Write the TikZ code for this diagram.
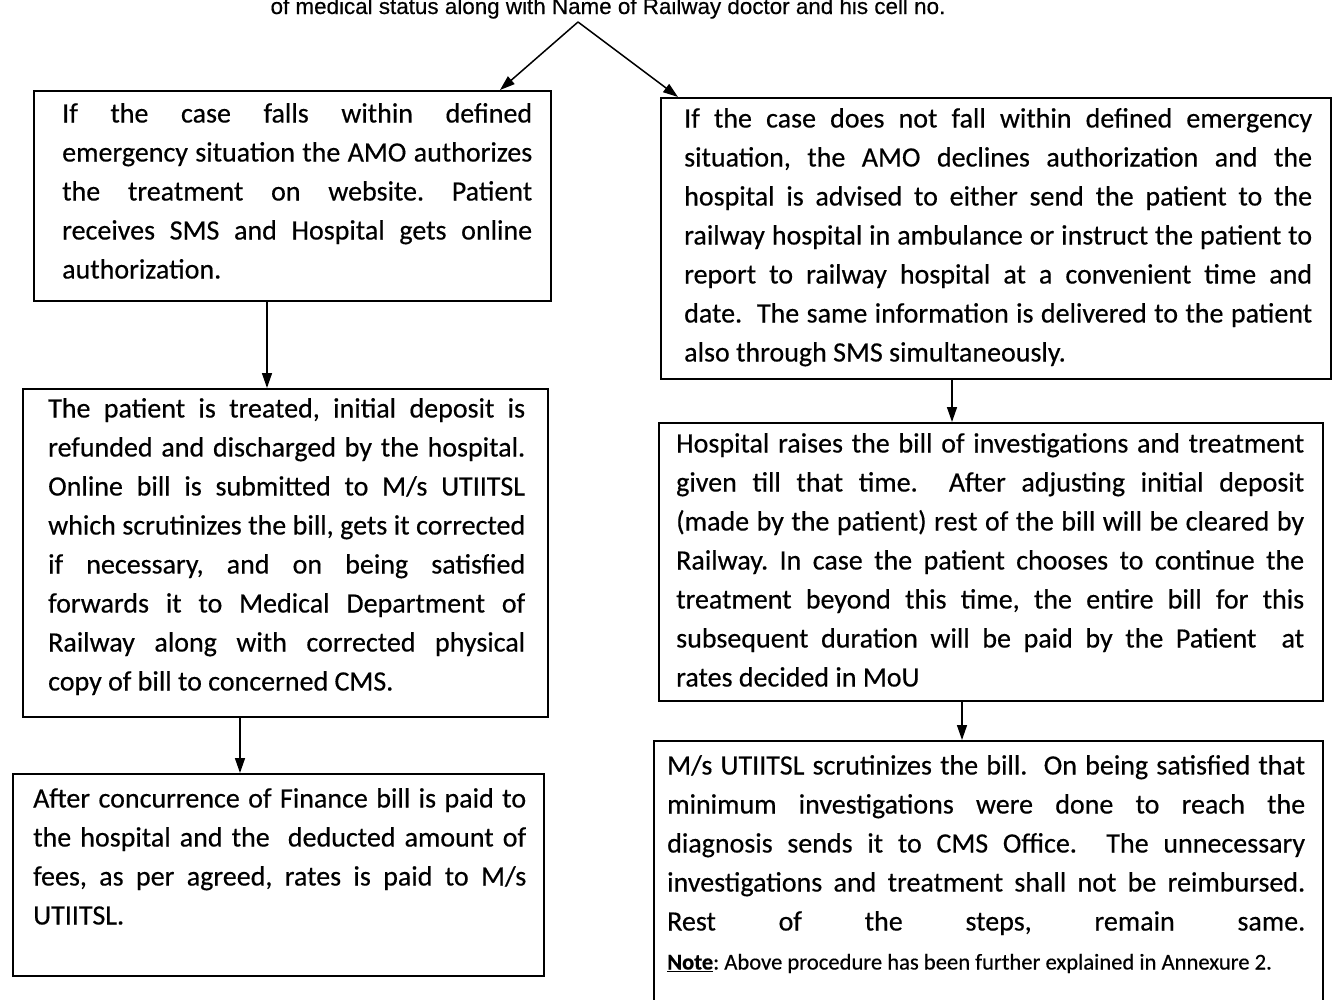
\documentclass[tikz,border=0pt]{standalone}
\usepackage{fontspec}
\setmainfont{Carlito}[FakeBold=0.4]
\newfontfamily\topfont{Liberation Sans}[FakeBold=0.4]
\usetikzlibrary{arrows.meta,calc}
\newcommand\J[2]{\hbox to #1pt{#2}}
\tikzset{
  boxst/.style={draw=black, line width=1.5pt, inner sep=0pt, anchor=north west},
  txt/.style={inner sep=0pt, anchor=north west, align=left, font=\fontsize{28}{39}\selectfont\frenchspacing},
  arr/.style={line width=1.5pt, -{Triangle[length=15pt,width=10pt]}}
}
\begin{document}
\begin{tikzpicture}[x=1pt,y=-1pt]
\useasboundingbox (0,0) rectangle (1333,999);
\fill[white] (0,0) rectangle (1333,999);
% top text (cut off by the page edge)
\node[font=\topfont\fontsize{22.4}{26}\selectfont, anchor=base, inner sep=0pt] (top) at (608,14) {of medical status along with Name of Railway doctor and his cell no.};
\coordinate (apex) at (578,22);
% boxes
\node[boxst, minimum width=517, minimum height=210] (L1) at (33,90) {};
\node[boxst, minimum width=525, minimum height=328] (L2) at (22,388) {};
\node[boxst, minimum width=531, minimum height=202] (L3) at (12,773) {};
\node[boxst, minimum width=670, minimum height=281] (R1) at (660,97) {};
\node[boxst, minimum width=664, minimum height=278] (R2) at (658,422) {};
\node[boxst, minimum width=669, minimum height=280] (R3) at (653,740) {};
% texts
\node[txt] (L1t) at (62,95) {\strut\J{470}{If the case falls within defined}\\
\J{470}{emergency situation the AMO authorizes}\\
\J{470}{the treatment on website. Patient}\\
\J{470}{receives SMS and Hospital gets online}\\
authorization.};
\node[txt] (L2t) at (48,390) {\strut\J{477}{The patient is treated, initial deposit is}\\
\J{477}{refunded and discharged by the hospital.}\\
\J{477}{Online bill is submitted to M/s UTIITSL}\\
\J{477}{which scrutinizes the bill, gets it corrected}\\
\J{477}{if necessary, and on being satisfied}\\
\J{477}{forwards it to Medical Department of}\\
\J{477}{Railway along with corrected physical}\\
copy of bill to concerned CMS.};
\node[txt] (L3t) at (33,780) {\strut\J{493}{After concurrence of Finance bill is paid to}\\
\J{493}{the hospital and the \ deducted amount of}\\
\J{493}{fees, as per agreed, rates is paid to M/s}\\
UTIITSL.};
\node[txt] (R1t) at (684,100) {\strut\J{628}{If the case does not fall within defined emergency}\\
\J{628}{situation, the AMO declines authorization and the}\\
\J{628}{hospital is advised to either send the patient to the}\\
\J{628}{railway hospital in ambulance or instruct the patient to}\\
\J{628}{report to railway hospital at a convenient time and}\\
\J{628}{date. \ The same information is delivered to the patient}\\
also through SMS simultaneously.};
\node[txt] (R2t) at (676,425) {\strut\J{628}{Hospital raises the bill of investigations and treatment}\\
\J{628}{given till that time. \ After adjusting initial deposit}\\
\J{628}{(made by the patient) rest of the bill will be cleared by}\\
\J{628}{Railway. In case the patient chooses to continue the}\\
\J{628}{treatment beyond this time, the entire bill for this}\\
\J{628}{subsequent duration will be paid by the Patient \ at}\\
rates decided in MoU};
\node[txt] (R3t) at (667,747) {\strut\J{638}{M/s UTIITSL scrutinizes the bill. \ On being satisfied that}\\
\J{638}{minimum investigations were done to reach the}\\
\J{638}{diagnosis sends it to CMS Office. \ The unnecessary}\\
\J{638}{investigations and treatment shall not be reimbursed.}\\
\J{638}{Rest of the steps, remain same.}\\
{\fontsize{22.6}{39}\selectfont\underline{\textbf{Note}}: Above procedure has been further explained in Annexure 2.}};
% connectors
\draw[arr] (apex) -- (500,0 |- L1.north);
\draw[arr] (apex) -- (678,0 |- R1.north);
\draw[arr] (267,0 |- L1.south) -- (267,0 |- L2.north);
\draw[arr] (240,0 |- L2.south) -- (240,0 |- L3.north);
\draw[arr] (952,0 |- R1.south) -- (952,0 |- R2.north);
\draw[arr] (962,0 |- R2.south) -- (962,0 |- R3.north);
\end{tikzpicture}
\end{document}
